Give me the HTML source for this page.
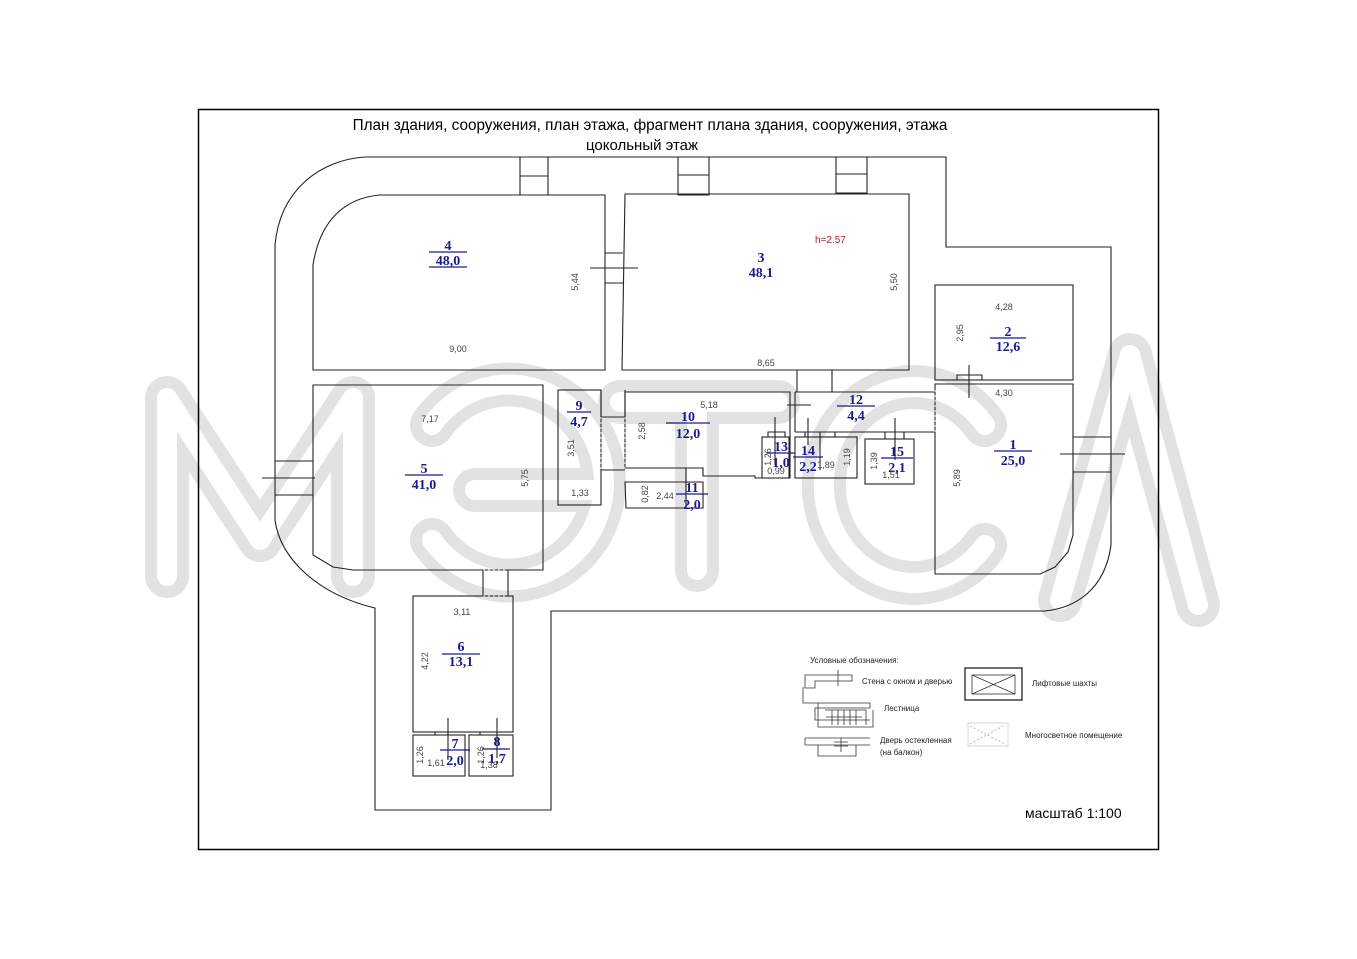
<!DOCTYPE html>
<html><head><meta charset="utf-8"><style>
html,body{margin:0;padding:0;background:#fff;}
svg{display:block}
.l{font-family:"Liberation Serif",serif;font-weight:bold;font-size:14px;fill:#1a1a8c;text-anchor:middle}
.d{font-family:"Liberation Sans",sans-serif;font-size:9px;fill:#444;text-anchor:middle}
</style></head><body>
<svg width="1357" height="959" viewBox="0 0 1357 959" xmlns="http://www.w3.org/2000/svg">
<rect width="1357" height="959" fill="#fff"/>
<!-- watermark -->
<g fill="none" stroke-linejoin="round" stroke-linecap="round">
<g stroke="#e2e2e2" stroke-width="44">
<path d="M167,576 V398 L260,540 L353,398 V576"/>
<path d="M432,425 A95,98 0 1 1 432,540"/>
<path d="M475,490 H595"/>
<path d="M620,402 H778 M697,402 V570"/>
<path d="M985,425 A90,98 0 1 0 985,545"/>
<path d="M1060,600 L1130,355 L1198,605"/>
</g>
<g stroke="#fff" stroke-width="20">
<path d="M167,576 V398 L260,540 L353,398 V576"/>
<path d="M432,425 A95,98 0 1 1 432,540"/>
<path d="M475,490 H595"/>
<path d="M620,402 H778 M697,402 V570"/>
<path d="M985,425 A90,98 0 1 0 985,545"/>
<path d="M1060,600 L1130,355 L1198,605"/>
</g>
</g>
<!-- frame -->
<rect x="198.5" y="109.5" width="960" height="740" fill="none" stroke="#000" stroke-width="1.5"/>
<text x="650" y="130" font-family="Liberation Sans,sans-serif" font-size="15.3" text-anchor="middle">План здания, сооружения, план этажа, фрагмент плана здания, сооружения, этажа</text>
<text x="642" y="150" font-family="Liberation Sans,sans-serif" font-size="15" text-anchor="middle">цокольный этаж</text>
<g fill="none" stroke="#222" stroke-width="1.1">
<path d="M375,810 V608 C320,595 280,560 275,520 V245 C280,190 320,160 365,157 H946 V247 H1111 V545 C1105,590 1075,608 1045,611 H551 V810 Z"/>
<path d="M520,157 V195 H548 V157 M520,176 H548"/>
<path d="M678,157 V195 H709 V157 M678,175 H709"/>
<path d="M836,157 V193 H867 V157 M836,174 H867"/>
<path d="M313,370 V265 C320,220 345,198 380,195 H605 V370 Z"/>
<path d="M605,253 H623 M605,283 H623 M590,268 H638"/>
<path d="M622,370 L625,194 H909 V370 Z"/>
<rect x="935" y="285" width="138" height="95"/>
<path d="M957,380 V375 H982 V380 M969,365 V398"/>
<path d="M935,384 H1073 V535 L1068,552 L1055,567 L1040,574 H935 Z"/>
<path d="M1073,437 H1111 M1073,472 H1111 M1060,454 H1125"/>
<path d="M313,385 H543 V570 H353 L333,567 L313,555 Z"/>
<path d="M275,461 H313 M275,495 H313 M262,478 H315"/>
<path d="M483,570 V596 M508,570 V596"/>
<rect x="413" y="596" width="100" height="136"/>
<rect x="413" y="735" width="52" height="41"/>
<rect x="469" y="735" width="44" height="41"/>
<path d="M448,718 V760 M497,718 V758 M435,732 V735 H460 M480,732 V735 H500"/>
<rect x="558" y="390" width="43" height="115"/>
<path d="M601,417 H625 M601,470 H625 M601,390 V417 M625,390 V417"/>
<path d="M625,392 H790 V478 H755 V476 H703 V468 H625 Z"/>
<path d="M625,482 H703 V508 H626 Z"/>
<path d="M686,468 V508"/>
<path d="M795,392 H935 M795,432 H935 M795,392 V432"/>
<path d="M797,370 V392 M832,370 V392"/>
<path d="M787,405 H811 M808,418 V445 M895,418 V460"/>
<rect x="762" y="437" width="27" height="41"/>
<path d="M775,417 V465 M768,437 V432 H785 V437"/>
<rect x="795" y="437" width="62" height="41"/>
<path d="M805,437 V432 H835 V437 M820,432 V470"/>
<rect x="865" y="439" width="49" height="45"/>
<path d="M885,439 V432 H904 V439"/>
</g>
<g stroke="#aaa" stroke-dasharray="2,3" fill="none">
<path d="M601,417 V470 M625,417 V470 M935,390 V432 M483,570 H508 M483,596 H508"/>
</g>
<g class="l">
<text x="448" y="250">4</text><text x="448" y="265">48,0</text>
<text x="761" y="262">3</text><text x="761" y="277">48,1</text>
<text x="1008" y="336">2</text><text x="1008" y="351">12,6</text>
<text x="1013" y="449">1</text><text x="1013" y="465">25,0</text>
<text x="424" y="473">5</text><text x="424" y="489">41,0</text>
<text x="461" y="651">6</text><text x="461" y="666">13,1</text>
<text x="455" y="748">7</text><text x="455" y="765">2,0</text>
<text x="497" y="746">8</text><text x="497" y="763">1,7</text>
<text x="579" y="410">9</text><text x="579" y="426">4,7</text>
<text x="688" y="421">10</text><text x="688" y="438">12,0</text>
<text x="692" y="492">11</text><text x="692" y="509">2,0</text>
<text x="856" y="404">12</text><text x="856" y="420">4,4</text>
<text x="781" y="451">13</text><text x="781" y="467">1,0</text>
<text x="808" y="455">14</text><text x="808" y="471">2,2</text>
<text x="897" y="456">15</text><text x="897" y="472">2,1</text>
</g>
<g stroke="#1a1a8c" stroke-width="1.2">
<path d="M429,252 H467 M429,267 H467 M442,654 H480 M440,750 H470 M482,749 H510 M567,412 H591 M666,423 H710 M676,494 H708 M837,406 H875 M767,453 H795 M793,457 H823 M881,458 H913 M990,338 H1026 M994,451 H1032 M405,475 H443"/>
</g>
<g class="d">
<text x="458" y="352">9,00</text>
<text x="766" y="366">8,65</text>
<text x="1004" y="310">4,28</text>
<text x="1004" y="396">4,30</text>
<text x="430" y="422">7,17</text>
<text x="462" y="615">3,11</text>
<text x="709" y="408">5,18</text>
<text x="580" y="496">1,33</text>
<text x="665" y="499">2,44</text>
<text x="826" y="468">1,89</text>
<text x="891" y="478">1,51</text>
<text x="436" y="766">1,61</text>
<text x="489" y="768">1,38</text>
<text x="776" y="474">0,99</text>
<text transform="translate(578,282) rotate(-90)">5,44</text>
<text transform="translate(897,282) rotate(-90)">5,50</text>
<text transform="translate(963,333) rotate(-90)">2,95</text>
<text transform="translate(960,478) rotate(-90)">5,89</text>
<text transform="translate(528,478) rotate(-90)">5,75</text>
<text transform="translate(574,448) rotate(-90)">3,51</text>
<text transform="translate(645,431) rotate(-90)">2,58</text>
<text transform="translate(648,494) rotate(-90)">0,82</text>
<text transform="translate(850,457) rotate(-90)">1,19</text>
<text transform="translate(877,461) rotate(-90)">1,39</text>
<text transform="translate(428,661) rotate(-90)">4,22</text>
<text transform="translate(423,755) rotate(-90)">1,26</text>
<text transform="translate(484,755) rotate(-90)">1,26</text>
<text transform="translate(771,457) rotate(-90)">1,26</text>
</g>
<text x="815" y="243" font-family="Liberation Sans,sans-serif" font-size="10" fill="#b02020">h=2.57</text>
<g font-family="Liberation Sans,sans-serif" font-size="8" fill="#222">
<text x="810" y="663">Условные обозначения:</text>
<text x="862" y="684">Стена с окном и дверью</text>
<text x="884" y="711">Лестница</text>
<text x="880" y="743">Дверь  остекленная</text>
<text x="880" y="755">(на балкон)</text>
<text x="1032" y="686">Лифтовые шахты</text>
<text x="1025" y="738">Многосветное помещение</text>
</g>
<g fill="none" stroke="#333" stroke-width="0.8">
<path d="M805,675 H852 V681 H815 V688 H805 Z M838,670 V686"/>
<path d="M803,687 V703 H870 V708 H815 V720 H870 M812,703 H818 V727 H873 V710 M825,710 H866 V725 M832,710 V725 M838,710 V725 M844,710 V725 M850,710 V725 M856,710 V725 M826,717 H862"/>
<path d="M805,738 H870 M805,745 H870 M805,738 V745 M818,745 V756 H856 V745 M841,738 V752 M834,742 H848 M834,746 H848"/>
<rect x="965" y="668" width="57" height="32" stroke-width="1.4"/>
<rect x="972" y="675" width="43" height="19"/>
<path d="M972,675 L1015,694 M1015,675 L972,694"/>
<rect x="968" y="723" width="40" height="23" stroke="#ccc"/>
<path d="M970,744 L1005,725 M970,726 L1005,744" stroke="#aaa" stroke-dasharray="2,2"/>
</g>
<text x="1025" y="818" font-family="Liberation Sans,sans-serif" font-size="14">масштаб 1:100</text>
</svg>
</body></html>
